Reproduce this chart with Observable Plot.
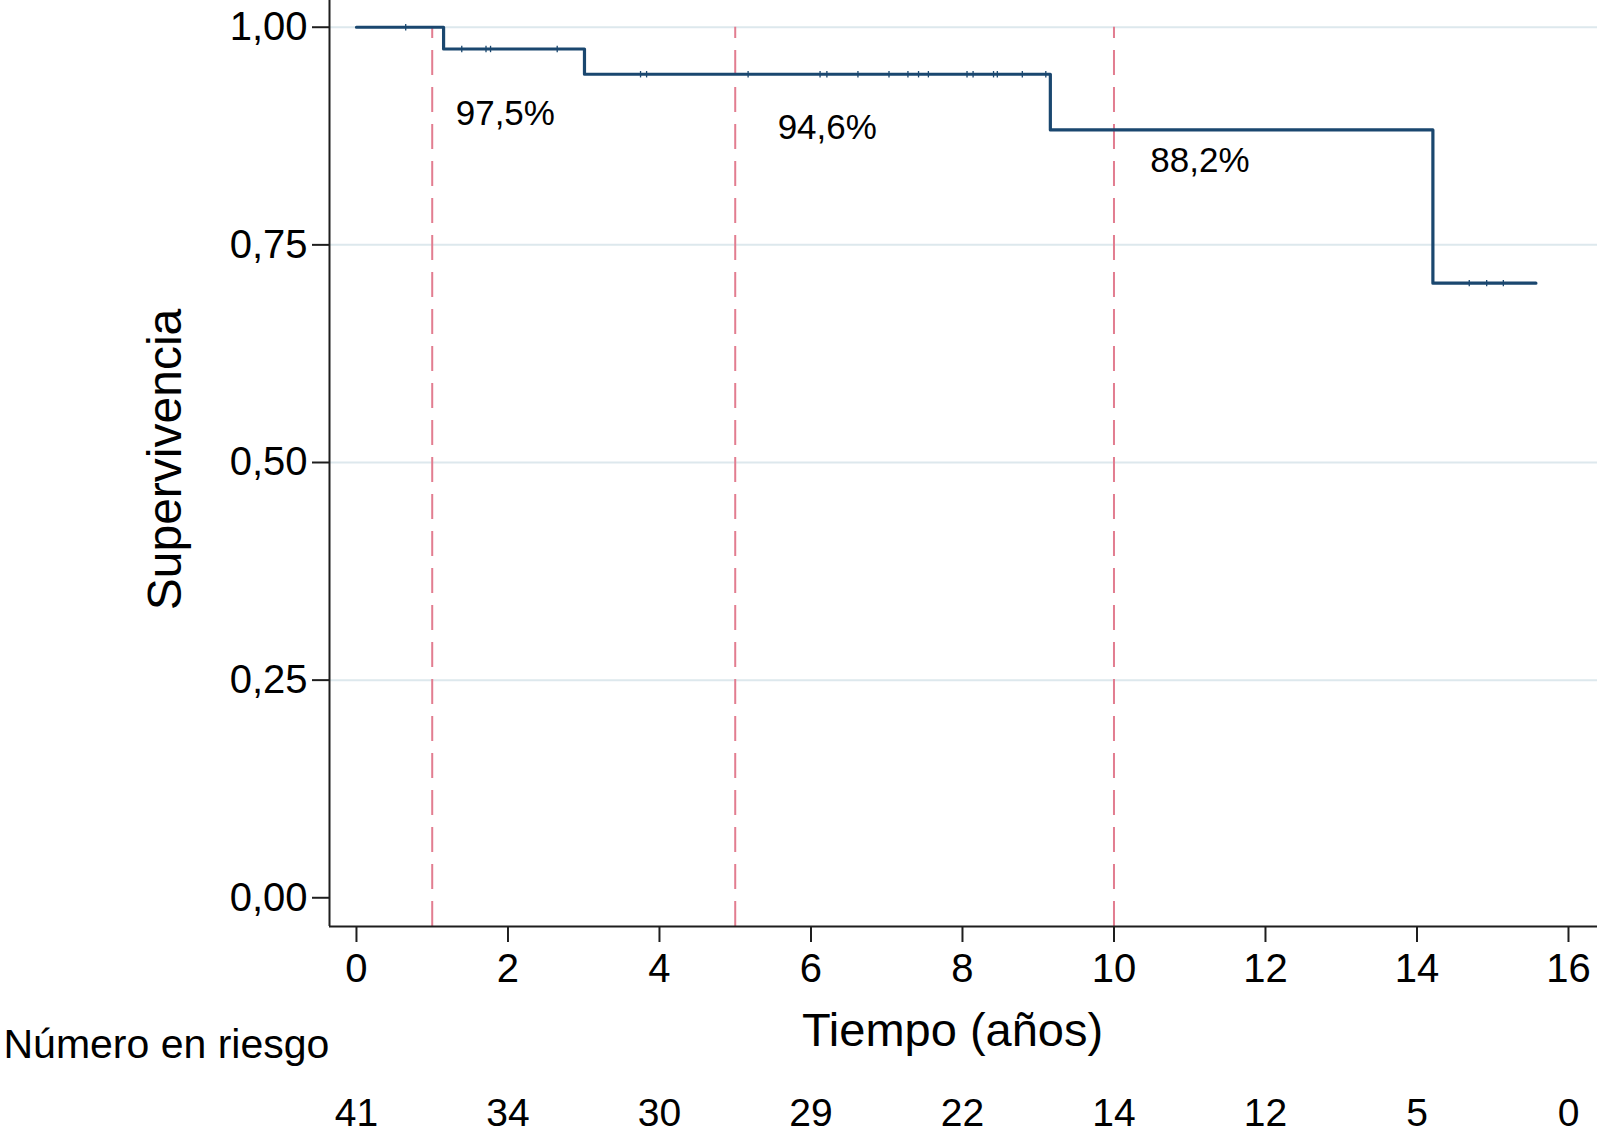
<!DOCTYPE html>
<html>
<head>
<meta charset="utf-8">
<script src="https://cdn.jsdelivr.net/npm/d3@7"></script>
<script src="https://cdn.jsdelivr.net/npm/@observablehq/plot@0.6"></script>
<style>
  html, body { margin: 0; padding: 0; background: #fff; }
</style>
</head>
<body>
<div id="chart"></div>
<script>
// Kaplan–Meier step curve (time in years, survival)
const stepTimes    = [0, 1.15, 3.01, 9.16, 14.21, 15.57];
const stepSurvival = [1, 0.975, 0.946, 0.882, 0.706, 0.706];

// Censoring marks (years)
const censorTimes = [0.65, 1.39, 1.71, 1.77, 2.65, 3.75, 3.83, 5.17, 6.12, 6.21, 6.62, 7.03,
                     7.28, 7.42, 7.55, 8.06, 8.14, 8.41, 8.46, 8.79, 9.10, 14.69, 14.92, 15.14];

// Reference years (dashed lines)
const markerYears = [1, 5, 10];

// Survival annotations
const labelTexts = ["97,5%", "94,6%", "88,2%"];
const labelX     = [1.31, 5.56, 10.48];
const labelY     = [0.901, 0.885, 0.847];

// Axis ticks
const xTicks = [0, 2, 4, 6, 8, 10, 12, 14, 16];
const yTicks = [0, 0.25, 0.5, 0.75, 1];
const gridTicks = [0.25, 0.5, 0.75, 1];

// Number at risk
const riskTimes  = [0, 2, 4, 6, 8, 10, 12, 14, 16];
const riskCounts = [41, 34, 30, 29, 22, 14, 12, 5, 0];

const xDomain = [-0.356, 16.383];
const yDomain = [-0.033, 1.0307];

const navy = "#1a476f";
const red = "#e27d90";
const axisColor = "#1e1e1e";

function survAt(t) {
  let s = stepSurvival[0];
  for (let i = 0; i < stepTimes.length; i++) if (stepTimes[i] <= t) s = stepSurvival[i];
  return s;
}

const stepData = stepTimes.map((t, i) => ({t, s: stepSurvival[i]}));
const censorData = censorTimes.map(t => ({t, s: survAt(t)}));
const labelData = labelTexts.map((txt, i) => ({txt, x: labelX[i], y: labelY[i]}));
const riskData = riskTimes.map((t, i) => ({t, n: riskCounts[i]}));

const vbar = {
  draw(context, size) {
    const r = Math.sqrt(size / Math.PI);
    context.moveTo(0, -r);
    context.lineTo(0, r);
  }
};

const fmt = d => d.toFixed(2).replace(".", ",");

const chart = Plot.plot({
  width: 1597,
  height: 1134,
  marginLeft: 329,
  marginRight: 0,
  marginTop: 0,
  marginBottom: 208,
  style: {
    fontFamily: "'Liberation Sans', Arial, Helvetica, sans-serif",
    background: "white",
    color: "black",
    overflow: "visible"
  },
  x: {domain: xDomain},
  y: {domain: yDomain},
  marks: [
    Plot.gridY(gridTicks, {stroke: "#dde8ed", strokeOpacity: 1, strokeWidth: 2}),
    Plot.ruleX(markerYears, {x: d => d, y1: yDomain[0], y2: 1, stroke: red, strokeWidth: 2, strokeDasharray: "25,12"}),
    Plot.line(stepData, {x: "t", y: "s", curve: "step-after", stroke: navy, strokeWidth: 3.2}),
    Plot.dot(censorData, {x: "t", y: "s", symbol: vbar, r: 3.2, stroke: navy, strokeWidth: 1.3, fill: "none"}),
    Plot.ruleX([xDomain[0]], {stroke: axisColor, strokeWidth: 2}),
    Plot.ruleY([yDomain[0]], {stroke: axisColor, strokeWidth: 2}),
    Plot.axisY(yTicks, {tickSize: 17, tickPadding: 5, tickFormat: fmt, fontSize: 40, label: null, stroke: axisColor, strokeWidth: 2}),
    Plot.axisX(xTicks, {tickSize: 16, tickPadding: 11, fontSize: 40, label: null, stroke: axisColor, strokeWidth: 2}),
    Plot.text(labelData, {x: "x", y: "y", text: "txt", textAnchor: "start", fontSize: 35, fill: "black"}),
    Plot.text(["Supervivencia"], {text: d => d, frameAnchor: "left", textAnchor: "middle", lineAnchor: "middle", rotate: -90, dx: -164, dy: -4, fontSize: 48, fill: "black"}),
    Plot.text(["Tiempo (años)"], {text: d => d, frameAnchor: "bottom", textAnchor: "middle", lineAnchor: "middle", dx: -11, dy: 104, fontSize: 47, fill: "black"}),
    Plot.text(["Número en riesgo"], {text: d => d, frameAnchor: "bottom-left", textAnchor: "start", lineAnchor: "middle", dx: -326, dy: 118, fontSize: 41, fill: "black"}),
    Plot.text(riskData, {x: "t", text: "n", frameAnchor: "bottom", textAnchor: "middle", lineAnchor: "middle", dy: 187, fontSize: 39, fill: "black"})
  ]
});

document.getElementById("chart").appendChild(chart);
</script>
</body>
</html>
